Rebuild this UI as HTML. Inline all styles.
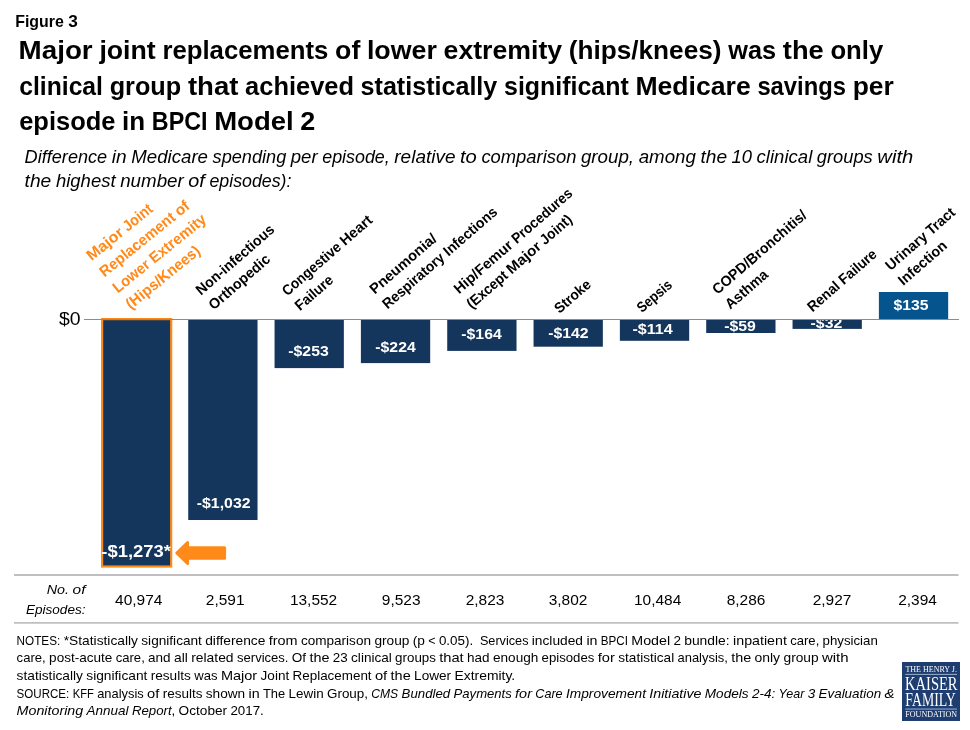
<!DOCTYPE html>
<html lang="en">
<head>
<meta charset="utf-8">
<title>Figure 3 – BPCI Model 2 Medicare savings per episode</title>
<style>
html,body{margin:0;padding:0;background:#fff;}
body{width:970px;height:730px;overflow:hidden;}
svg{display:block;}
svg text{font-family:'Liberation Sans', Arial, Helvetica, sans-serif;white-space:pre;}
.serif{font-family:'Liberation Serif', 'Times New Roman', serif;}
</style>
</head>
<body>
<svg width="970" height="730" viewBox="0 0 970 730">
<rect width="970" height="730" fill="#fff"/>
<!-- bars -->
<rect x="102.10" y="319.10" width="69.10" height="247.40" fill="#14365C" stroke="#FF8A1A" stroke-width="2.2"/>
<rect x="188.23" y="319.50" width="69.30" height="200.50" fill="#14365C"/>
<rect x="274.56" y="319.50" width="69.30" height="48.60" fill="#14365C"/>
<rect x="360.89" y="319.50" width="69.30" height="43.60" fill="#14365C"/>
<rect x="447.22" y="319.50" width="69.30" height="31.40" fill="#14365C"/>
<rect x="533.55" y="319.50" width="69.30" height="27.20" fill="#14365C"/>
<rect x="619.88" y="319.50" width="69.30" height="21.30" fill="#14365C"/>
<rect x="706.21" y="319.50" width="69.30" height="13.50" fill="#14365C"/>
<rect x="792.54" y="319.50" width="69.30" height="9.40" fill="#14365C"/>
<rect x="878.87" y="292.00" width="69.30" height="27.50" fill="#06548D"/>
<!-- text -->
<text y="26.6" font-size="16.34" fill="#000" font-weight="bold"><tspan x="15.2" textLength="48.7" lengthAdjust="spacingAndGlyphs">Figure</tspan> <tspan x="68.2" textLength="9.6" lengthAdjust="spacingAndGlyphs">3</tspan></text>
<text y="58.6" font-size="25.66" fill="#000" font-weight="bold"><tspan x="18.6" textLength="74.1" lengthAdjust="spacingAndGlyphs">Major</tspan> <tspan x="99.4" textLength="56.3" lengthAdjust="spacingAndGlyphs">joint</tspan> <tspan x="162.4" textLength="166.0" lengthAdjust="spacingAndGlyphs">replacements</tspan> <tspan x="335.1" textLength="25.2" lengthAdjust="spacingAndGlyphs">of</tspan> <tspan x="366.9" textLength="70.0" lengthAdjust="spacingAndGlyphs">lower</tspan> <tspan x="443.6" textLength="118.5" lengthAdjust="spacingAndGlyphs">extremity</tspan> <tspan x="568.7" textLength="152.8" lengthAdjust="spacingAndGlyphs">(hips/knees)</tspan> <tspan x="728.2" textLength="47.9" lengthAdjust="spacingAndGlyphs">was</tspan> <tspan x="782.8" textLength="40.9" lengthAdjust="spacingAndGlyphs">the</tspan> <tspan x="830.4" textLength="52.8" lengthAdjust="spacingAndGlyphs">only</tspan></text>
<text y="94.6" font-size="25.66" fill="#000" font-weight="bold"><tspan x="19.2" textLength="83.8" lengthAdjust="spacingAndGlyphs">clinical</tspan> <tspan x="109.7" textLength="71.5" lengthAdjust="spacingAndGlyphs">group</tspan> <tspan x="187.9" textLength="50.5" lengthAdjust="spacingAndGlyphs">that</tspan> <tspan x="245.1" textLength="108.9" lengthAdjust="spacingAndGlyphs">achieved</tspan> <tspan x="360.6" textLength="136.7" lengthAdjust="spacingAndGlyphs">statistically</tspan> <tspan x="504.0" textLength="124.8" lengthAdjust="spacingAndGlyphs">significant</tspan> <tspan x="635.4" textLength="115.3" lengthAdjust="spacingAndGlyphs">Medicare</tspan> <tspan x="757.4" textLength="88.6" lengthAdjust="spacingAndGlyphs">savings</tspan> <tspan x="852.7" textLength="41.1" lengthAdjust="spacingAndGlyphs">per</tspan></text>
<text y="130.4" font-size="25.66" fill="#000" font-weight="bold"><tspan x="19.2" textLength="96.2" lengthAdjust="spacingAndGlyphs">episode</tspan> <tspan x="122.1" textLength="23.1" lengthAdjust="spacingAndGlyphs">in</tspan> <tspan x="151.8" textLength="55.7" lengthAdjust="spacingAndGlyphs">BPCI</tspan> <tspan x="214.2" textLength="79.5" lengthAdjust="spacingAndGlyphs">Model</tspan> <tspan x="300.3" textLength="15.0" lengthAdjust="spacingAndGlyphs">2</tspan></text>
<text y="163.0" font-size="18.00" fill="#000" font-style="italic"><tspan x="24.6" textLength="82.6" lengthAdjust="spacingAndGlyphs">Difference</tspan> <tspan x="111.8" textLength="14.9" lengthAdjust="spacingAndGlyphs">in</tspan> <tspan x="131.3" textLength="76.7" lengthAdjust="spacingAndGlyphs">Medicare</tspan> <tspan x="212.6" textLength="73.7" lengthAdjust="spacingAndGlyphs">spending</tspan> <tspan x="290.8" textLength="26.8" lengthAdjust="spacingAndGlyphs">per</tspan> <tspan x="322.2" textLength="67.6" lengthAdjust="spacingAndGlyphs">episode,</tspan> <tspan x="394.3" textLength="61.2" lengthAdjust="spacingAndGlyphs">relative</tspan> <tspan x="460.0" textLength="16.8" lengthAdjust="spacingAndGlyphs">to</tspan> <tspan x="481.4" textLength="95.0" lengthAdjust="spacingAndGlyphs">comparison</tspan> <tspan x="580.9" textLength="53.2" lengthAdjust="spacingAndGlyphs">group,</tspan> <tspan x="638.7" textLength="57.2" lengthAdjust="spacingAndGlyphs">among</tspan> <tspan x="700.4" textLength="26.7" lengthAdjust="spacingAndGlyphs">the</tspan> <tspan x="731.6" textLength="20.4" lengthAdjust="spacingAndGlyphs">10</tspan> <tspan x="756.6" textLength="55.7" lengthAdjust="spacingAndGlyphs">clinical</tspan> <tspan x="816.8" textLength="55.9" lengthAdjust="spacingAndGlyphs">groups</tspan> <tspan x="877.3" textLength="36.0" lengthAdjust="spacingAndGlyphs">with</tspan></text>
<text y="187.4" font-size="18.00" fill="#000" font-style="italic"><tspan x="24.6" textLength="26.7" lengthAdjust="spacingAndGlyphs">the</tspan> <tspan x="55.9" textLength="59.7" lengthAdjust="spacingAndGlyphs">highest</tspan> <tspan x="120.2" textLength="63.6" lengthAdjust="spacingAndGlyphs">number</tspan> <tspan x="188.3" textLength="16.5" lengthAdjust="spacingAndGlyphs">of</tspan> <tspan x="209.4" textLength="82.1" lengthAdjust="spacingAndGlyphs">episodes):</tspan></text>
<text y="325.4" font-size="19.20" fill="#000"><tspan x="59.0" textLength="21.6" lengthAdjust="spacingAndGlyphs">$0</tspan></text>
<text transform="translate(91.50 261.30) rotate(-39.0)" y="0.0" font-size="15.30" fill="#FF8A1A" font-weight="bold"><tspan x="0.0" textLength="42.8" lengthAdjust="spacingAndGlyphs">Major</tspan> <tspan x="46.6" textLength="33.8" lengthAdjust="spacingAndGlyphs">Joint</tspan></text>
<text transform="translate(91.50 261.30) rotate(-39.0)" y="20.8" font-size="15.30" fill="#FF8A1A" font-weight="bold"><tspan x="0.0" textLength="92.5" lengthAdjust="spacingAndGlyphs">Replacement</tspan> <tspan x="96.3" textLength="14.5" lengthAdjust="spacingAndGlyphs">of</tspan></text>
<text transform="translate(91.50 261.30) rotate(-39.0)" y="41.6" font-size="15.30" fill="#FF8A1A" font-weight="bold"><tspan x="0.0" textLength="43.2" lengthAdjust="spacingAndGlyphs">Lower</tspan> <tspan x="47.0" textLength="68.4" lengthAdjust="spacingAndGlyphs">Extremity</tspan></text>
<text transform="translate(91.50 261.30) rotate(-39.0)" y="62.4" font-size="15.30" fill="#FF8A1A" font-weight="bold"><tspan x="0.0" textLength="90.8" lengthAdjust="spacingAndGlyphs">(Hips/Knees)</tspan></text>
<text transform="translate(201.00 295.70) rotate(-41.0)" y="0.0" font-size="14.58" fill="#000" font-weight="bold"><tspan x="0.0" textLength="98.7" lengthAdjust="spacingAndGlyphs">Non-infectious</tspan></text>
<text transform="translate(201.00 295.70) rotate(-41.0)" y="19.6" font-size="14.58" fill="#000" font-weight="bold"><tspan x="0.0" textLength="76.0" lengthAdjust="spacingAndGlyphs">Orthopedic</tspan></text>
<text transform="translate(287.20 296.50) rotate(-41.0)" y="0.0" font-size="14.58" fill="#000" font-weight="bold"><tspan x="0.0" textLength="73.0" lengthAdjust="spacingAndGlyphs">Congestive</tspan> <tspan x="76.7" textLength="37.7" lengthAdjust="spacingAndGlyphs">Heart</tspan></text>
<text transform="translate(287.20 296.50) rotate(-41.0)" y="19.6" font-size="14.58" fill="#000" font-weight="bold"><tspan x="0.0" textLength="45.3" lengthAdjust="spacingAndGlyphs">Failure</tspan></text>
<text transform="translate(374.70 294.80) rotate(-41.0)" y="0.0" font-size="14.58" fill="#000" font-weight="bold"><tspan x="0.0" textLength="83.6" lengthAdjust="spacingAndGlyphs">Pneumonia/</tspan></text>
<text transform="translate(374.70 294.80) rotate(-41.0)" y="19.6" font-size="14.58" fill="#000" font-weight="bold"><tspan x="0.0" textLength="77.0" lengthAdjust="spacingAndGlyphs">Respiratory</tspan> <tspan x="80.7" textLength="66.0" lengthAdjust="spacingAndGlyphs">Infections</tspan></text>
<text transform="translate(458.90 294.50) rotate(-41.0)" y="0.0" font-size="14.58" fill="#000" font-weight="bold"><tspan x="0.0" textLength="72.8" lengthAdjust="spacingAndGlyphs">Hip/Femur</tspan> <tspan x="76.5" textLength="75.4" lengthAdjust="spacingAndGlyphs">Procedures</tspan></text>
<text transform="translate(458.90 294.50) rotate(-41.0)" y="19.6" font-size="14.58" fill="#000" font-weight="bold"><tspan x="0.0" textLength="49.2" lengthAdjust="spacingAndGlyphs">(Except</tspan> <tspan x="52.8" textLength="40.7" lengthAdjust="spacingAndGlyphs">Major</tspan> <tspan x="97.2" textLength="37.2" lengthAdjust="spacingAndGlyphs">Joint)</tspan></text>
<text transform="translate(559.50 314.10) rotate(-41.0)" y="0.0" font-size="14.58" fill="#000" font-weight="bold"><tspan x="0.0" textLength="43.0" lengthAdjust="spacingAndGlyphs">Stroke</tspan></text>
<text transform="translate(642.00 313.30) rotate(-41.0)" y="0.0" font-size="14.58" fill="#000" font-weight="bold"><tspan x="0.0" textLength="41.3" lengthAdjust="spacingAndGlyphs">Sepsis</tspan></text>
<text transform="translate(717.50 295.00) rotate(-41.0)" y="0.0" font-size="14.58" fill="#000" font-weight="bold"><tspan x="0.0" textLength="119.5" lengthAdjust="spacingAndGlyphs">COPD/Bronchitis/</tspan></text>
<text transform="translate(717.50 295.00) rotate(-41.0)" y="19.6" font-size="14.58" fill="#000" font-weight="bold"><tspan x="0.0" textLength="51.5" lengthAdjust="spacingAndGlyphs">Asthma</tspan></text>
<text transform="translate(812.50 312.50) rotate(-41.0)" y="0.0" font-size="14.58" fill="#000" font-weight="bold"><tspan x="0.0" textLength="37.7" lengthAdjust="spacingAndGlyphs">Renal</tspan> <tspan x="41.4" textLength="45.3" lengthAdjust="spacingAndGlyphs">Failure</tspan></text>
<text transform="translate(890.40 271.20) rotate(-41.0)" y="0.0" font-size="14.58" fill="#000" font-weight="bold"><tspan x="0.0" textLength="50.5" lengthAdjust="spacingAndGlyphs">Urinary</tspan> <tspan x="54.1" textLength="33.0" lengthAdjust="spacingAndGlyphs">Tract</tspan></text>
<text transform="translate(890.40 271.20) rotate(-41.0)" y="19.6" font-size="14.58" fill="#000" font-weight="bold"><tspan x="0.0" textLength="59.5" lengthAdjust="spacingAndGlyphs">Infection</tspan></text>
<text y="557.2" font-size="16.97" fill="#fff" font-weight="bold"><tspan x="101.3" textLength="69.7" lengthAdjust="spacingAndGlyphs">-$1,273*</tspan></text>
<text y="507.9" font-size="15.16" fill="#fff" font-weight="bold"><tspan x="196.8" textLength="53.7" lengthAdjust="spacingAndGlyphs">-$1,032</tspan></text>
<text y="355.9" font-size="15.16" fill="#fff" font-weight="bold"><tspan x="288.3" textLength="40.4" lengthAdjust="spacingAndGlyphs">-$253</tspan></text>
<text y="351.7" font-size="15.16" fill="#fff" font-weight="bold"><tspan x="375.3" textLength="40.4" lengthAdjust="spacingAndGlyphs">-$224</tspan></text>
<text y="339.3" font-size="15.16" fill="#fff" font-weight="bold"><tspan x="461.3" textLength="40.4" lengthAdjust="spacingAndGlyphs">-$164</tspan></text>
<text y="338.3" font-size="15.16" fill="#fff" font-weight="bold"><tspan x="548.2" textLength="40.4" lengthAdjust="spacingAndGlyphs">-$142</tspan></text>
<text y="334.3" font-size="15.16" fill="#fff" font-weight="bold"><tspan x="632.4" textLength="40.4" lengthAdjust="spacingAndGlyphs">-$114</tspan></text>
<text y="330.7" font-size="15.16" fill="#fff" font-weight="bold"><tspan x="724.2" textLength="31.7" lengthAdjust="spacingAndGlyphs">-$59</tspan></text>
<text y="327.9" font-size="15.16" fill="#fff" font-weight="bold"><tspan x="810.6" textLength="31.7" lengthAdjust="spacingAndGlyphs">-$32</tspan></text>
<text y="309.9" font-size="15.16" fill="#fff" font-weight="bold"><tspan x="893.4" textLength="35.1" lengthAdjust="spacingAndGlyphs">$135</tspan></text>
<text y="594.4" font-size="13.43" fill="#000" font-style="italic"><tspan x="46.7" textLength="22.3" lengthAdjust="spacingAndGlyphs">No.</tspan> <tspan x="72.6" textLength="12.9" lengthAdjust="spacingAndGlyphs">of</tspan></text>
<text y="613.6" font-size="13.43" fill="#000" font-style="italic"><tspan x="25.9" textLength="59.6" lengthAdjust="spacingAndGlyphs">Episodes:</tspan></text>
<text y="605.2" font-size="15.30" fill="#000"><tspan x="115.1" textLength="47.3" lengthAdjust="spacingAndGlyphs">40,974</tspan></text>
<text y="605.2" font-size="15.30" fill="#000"><tspan x="205.8" textLength="38.7" lengthAdjust="spacingAndGlyphs">2,591</tspan></text>
<text y="605.2" font-size="15.30" fill="#000"><tspan x="289.9" textLength="47.3" lengthAdjust="spacingAndGlyphs">13,552</tspan></text>
<text y="605.2" font-size="15.30" fill="#000"><tspan x="381.8" textLength="38.7" lengthAdjust="spacingAndGlyphs">9,523</tspan></text>
<text y="605.2" font-size="15.30" fill="#000"><tspan x="465.7" textLength="38.7" lengthAdjust="spacingAndGlyphs">2,823</tspan></text>
<text y="605.2" font-size="15.30" fill="#000"><tspan x="548.7" textLength="38.7" lengthAdjust="spacingAndGlyphs">3,802</tspan></text>
<text y="605.2" font-size="15.30" fill="#000"><tspan x="634.0" textLength="47.3" lengthAdjust="spacingAndGlyphs">10,484</tspan></text>
<text y="605.2" font-size="15.30" fill="#000"><tspan x="726.7" textLength="38.7" lengthAdjust="spacingAndGlyphs">8,286</tspan></text>
<text y="605.2" font-size="15.30" fill="#000"><tspan x="812.7" textLength="38.7" lengthAdjust="spacingAndGlyphs">2,927</tspan></text>
<text y="605.2" font-size="15.30" fill="#000"><tspan x="898.2" textLength="38.7" lengthAdjust="spacingAndGlyphs">2,394</tspan></text>
<text y="644.6" font-size="13.20" fill="#000"><tspan x="16.6" textLength="43.7" lengthAdjust="spacingAndGlyphs">NOTES:</tspan> <tspan x="63.7" textLength="74.3" lengthAdjust="spacingAndGlyphs">*Statistically</tspan> <tspan x="141.3" textLength="60.6" lengthAdjust="spacingAndGlyphs">significant</tspan> <tspan x="205.2" textLength="60.2" lengthAdjust="spacingAndGlyphs">difference</tspan> <tspan x="268.7" textLength="28.9" lengthAdjust="spacingAndGlyphs">from</tspan> <tspan x="300.9" textLength="70.1" lengthAdjust="spacingAndGlyphs">comparison</tspan> <tspan x="374.4" textLength="35.0" lengthAdjust="spacingAndGlyphs">group</tspan> <tspan x="412.7" textLength="12.2" lengthAdjust="spacingAndGlyphs">(p</tspan> <tspan x="428.3" textLength="7.3" lengthAdjust="spacingAndGlyphs">&lt;</tspan> <tspan x="438.9" textLength="34.3" lengthAdjust="spacingAndGlyphs">0.05).</tspan>  <tspan x="479.9" textLength="48.6" lengthAdjust="spacingAndGlyphs">Services</tspan> <tspan x="531.8" textLength="51.2" lengthAdjust="spacingAndGlyphs">included</tspan> <tspan x="586.4" textLength="11.1" lengthAdjust="spacingAndGlyphs">in</tspan> <tspan x="600.8" textLength="27.2" lengthAdjust="spacingAndGlyphs">BPCI</tspan> <tspan x="631.3" textLength="38.8" lengthAdjust="spacingAndGlyphs">Model</tspan> <tspan x="673.4" textLength="7.5" lengthAdjust="spacingAndGlyphs">2</tspan> <tspan x="684.2" textLength="45.5" lengthAdjust="spacingAndGlyphs">bundle:</tspan> <tspan x="733.1" textLength="53.8" lengthAdjust="spacingAndGlyphs">inpatient</tspan> <tspan x="790.2" textLength="29.1" lengthAdjust="spacingAndGlyphs">care,</tspan> <tspan x="822.6" textLength="55.2" lengthAdjust="spacingAndGlyphs">physician</tspan></text>
<text y="662.2" font-size="13.20" fill="#000"><tspan x="16.6" textLength="29.1" lengthAdjust="spacingAndGlyphs">care,</tspan> <tspan x="49.1" textLength="63.3" lengthAdjust="spacingAndGlyphs">post-acute</tspan> <tspan x="115.7" textLength="29.1" lengthAdjust="spacingAndGlyphs">care,</tspan> <tspan x="148.1" textLength="22.5" lengthAdjust="spacingAndGlyphs">and</tspan> <tspan x="174.0" textLength="13.8" lengthAdjust="spacingAndGlyphs">all</tspan> <tspan x="191.2" textLength="42.4" lengthAdjust="spacingAndGlyphs">related</tspan> <tspan x="237.0" textLength="51.5" lengthAdjust="spacingAndGlyphs">services.</tspan> <tspan x="291.8" textLength="14.3" lengthAdjust="spacingAndGlyphs">Of</tspan> <tspan x="309.4" textLength="20.0" lengthAdjust="spacingAndGlyphs">the</tspan> <tspan x="332.8" textLength="14.9" lengthAdjust="spacingAndGlyphs">23</tspan> <tspan x="351.1" textLength="40.7" lengthAdjust="spacingAndGlyphs">clinical</tspan> <tspan x="395.1" textLength="40.8" lengthAdjust="spacingAndGlyphs">groups</tspan> <tspan x="439.2" textLength="24.5" lengthAdjust="spacingAndGlyphs">that</tspan> <tspan x="467.1" textLength="22.5" lengthAdjust="spacingAndGlyphs">had</tspan> <tspan x="493.0" textLength="45.3" lengthAdjust="spacingAndGlyphs">enough</tspan> <tspan x="541.6" textLength="52.8" lengthAdjust="spacingAndGlyphs">episodes</tspan> <tspan x="597.8" textLength="17.1" lengthAdjust="spacingAndGlyphs">for</tspan> <tspan x="618.3" textLength="55.9" lengthAdjust="spacingAndGlyphs">statistical</tspan> <tspan x="677.5" textLength="50.4" lengthAdjust="spacingAndGlyphs">analysis,</tspan> <tspan x="731.2" textLength="20.0" lengthAdjust="spacingAndGlyphs">the</tspan> <tspan x="754.5" textLength="25.6" lengthAdjust="spacingAndGlyphs">only</tspan> <tspan x="783.5" textLength="35.1" lengthAdjust="spacingAndGlyphs">group</tspan> <tspan x="821.9" textLength="26.6" lengthAdjust="spacingAndGlyphs">with</tspan></text>
<text y="679.8" font-size="13.20" fill="#000"><tspan x="16.6" textLength="66.3" lengthAdjust="spacingAndGlyphs">statistically</tspan> <tspan x="86.3" textLength="61.1" lengthAdjust="spacingAndGlyphs">significant</tspan> <tspan x="150.7" textLength="40.1" lengthAdjust="spacingAndGlyphs">results</tspan> <tspan x="194.2" textLength="23.3" lengthAdjust="spacingAndGlyphs">was</tspan> <tspan x="220.9" textLength="36.3" lengthAdjust="spacingAndGlyphs">Major</tspan> <tspan x="260.6" textLength="28.6" lengthAdjust="spacingAndGlyphs">Joint</tspan> <tspan x="292.6" textLength="79.0" lengthAdjust="spacingAndGlyphs">Replacement</tspan> <tspan x="374.9" textLength="12.3" lengthAdjust="spacingAndGlyphs">of</tspan> <tspan x="390.6" textLength="20.1" lengthAdjust="spacingAndGlyphs">the</tspan> <tspan x="414.1" textLength="37.0" lengthAdjust="spacingAndGlyphs">Lower</tspan> <tspan x="454.5" textLength="60.7" lengthAdjust="spacingAndGlyphs">Extremity.</tspan></text>
<text y="697.8" font-size="13.20" fill="#000"><tspan x="16.6" textLength="52.7" lengthAdjust="spacingAndGlyphs">SOURCE:</tspan> <tspan x="72.7" textLength="21.2" lengthAdjust="spacingAndGlyphs">KFF</tspan> <tspan x="97.2" textLength="46.6" lengthAdjust="spacingAndGlyphs">analysis</tspan> <tspan x="147.1" textLength="12.2" lengthAdjust="spacingAndGlyphs">of</tspan> <tspan x="162.7" textLength="39.8" lengthAdjust="spacingAndGlyphs">results</tspan> <tspan x="205.8" textLength="39.4" lengthAdjust="spacingAndGlyphs">shown</tspan> <tspan x="248.6" textLength="11.1" lengthAdjust="spacingAndGlyphs">in</tspan> <tspan x="263.0" textLength="22.2" lengthAdjust="spacingAndGlyphs">The</tspan> <tspan x="288.6" textLength="35.0" lengthAdjust="spacingAndGlyphs">Lewin</tspan> <tspan x="327.0" textLength="41.0" lengthAdjust="spacingAndGlyphs">Group,</tspan> <tspan x="371.3" textLength="26.9" lengthAdjust="spacingAndGlyphs" font-style="italic">CMS</tspan> <tspan x="401.6" textLength="48.6" lengthAdjust="spacingAndGlyphs" font-style="italic">Bundled</tspan> <tspan x="453.6" textLength="58.2" lengthAdjust="spacingAndGlyphs" font-style="italic">Payments</tspan> <tspan x="515.1" textLength="16.9" lengthAdjust="spacingAndGlyphs" font-style="italic">for</tspan> <tspan x="535.3" textLength="27.3" lengthAdjust="spacingAndGlyphs" font-style="italic">Care</tspan> <tspan x="566.0" textLength="80.0" lengthAdjust="spacingAndGlyphs" font-style="italic">Improvement</tspan> <tspan x="649.3" textLength="52.2" lengthAdjust="spacingAndGlyphs" font-style="italic">Initiative</tspan> <tspan x="704.8" textLength="43.8" lengthAdjust="spacingAndGlyphs" font-style="italic">Models</tspan> <tspan x="751.9" textLength="23.3" lengthAdjust="spacingAndGlyphs" font-style="italic">2-4:</tspan> <tspan x="778.6" textLength="25.8" lengthAdjust="spacingAndGlyphs" font-style="italic">Year</tspan> <tspan x="807.7" textLength="7.5" lengthAdjust="spacingAndGlyphs" font-style="italic">3</tspan> <tspan x="818.5" textLength="62.7" lengthAdjust="spacingAndGlyphs" font-style="italic">Evaluation</tspan> <tspan x="884.6" textLength="10.0" lengthAdjust="spacingAndGlyphs" font-style="italic">&amp;</tspan></text>
<text y="715.4" font-size="13.20" fill="#000"><tspan x="16.6" textLength="66.6" lengthAdjust="spacingAndGlyphs" font-style="italic">Monitoring</tspan> <tspan x="86.6" textLength="42.0" lengthAdjust="spacingAndGlyphs" font-style="italic">Annual</tspan> <tspan x="131.9" textLength="39.7" lengthAdjust="spacingAndGlyphs" font-style="italic">Report</tspan><tspan x="171.6" textLength="3.7" lengthAdjust="spacingAndGlyphs">,</tspan> <tspan x="178.6" textLength="48.5" lengthAdjust="spacingAndGlyphs">October</tspan> <tspan x="230.4" textLength="33.4" lengthAdjust="spacingAndGlyphs">2017.</tspan></text>
<!-- lines, arrow -->
<line x1="84" y1="319.50" x2="959" y2="319.50" stroke="#8C8C8C" stroke-width="1.1"/>
<line x1="14" y1="575" x2="958.5" y2="575" stroke="#BFBFBF" stroke-width="1.8"/>
<line x1="14" y1="622.8" x2="958.5" y2="622.8" stroke="#BFBFBF" stroke-width="1.8"/>
<path d="M176.8 553 L187.6 542.5 L187.6 547.8 L224.6 547.8 L224.6 558.3 L187.6 558.3 L187.6 563.5 Z" fill="#FF8A1A" stroke="#FF8A1A" stroke-width="3" stroke-linejoin="round"/>
<!-- logo -->
<rect x="902" y="662" width="58" height="59" fill="#1E3D70"/>
<rect x="905.3" y="673.9" width="51.7" height="0.9" fill="#AEBBD3"/>
<rect x="905.3" y="708.6" width="51.7" height="0.9" fill="#AEBBD3"/>
<text class="serif" x="931.20" y="671.90" font-size="7.50" text-anchor="middle" fill="#fff" textLength="51.50" lengthAdjust="spacingAndGlyphs">THE HENRY J.</text>
<text class="serif" x="931.30" y="690.00" font-size="18.20" text-anchor="middle" fill="#fff" textLength="52.50" lengthAdjust="spacingAndGlyphs">KAISER</text>
<text class="serif" x="930.60" y="705.80" font-size="18.20" text-anchor="middle" fill="#fff" textLength="50.50" lengthAdjust="spacingAndGlyphs">FAMILY</text>
<text class="serif" x="931.20" y="717.00" font-size="7.50" text-anchor="middle" fill="#fff" textLength="51.70" lengthAdjust="spacingAndGlyphs">FOUNDATION</text>
</svg>
</body>
</html>
